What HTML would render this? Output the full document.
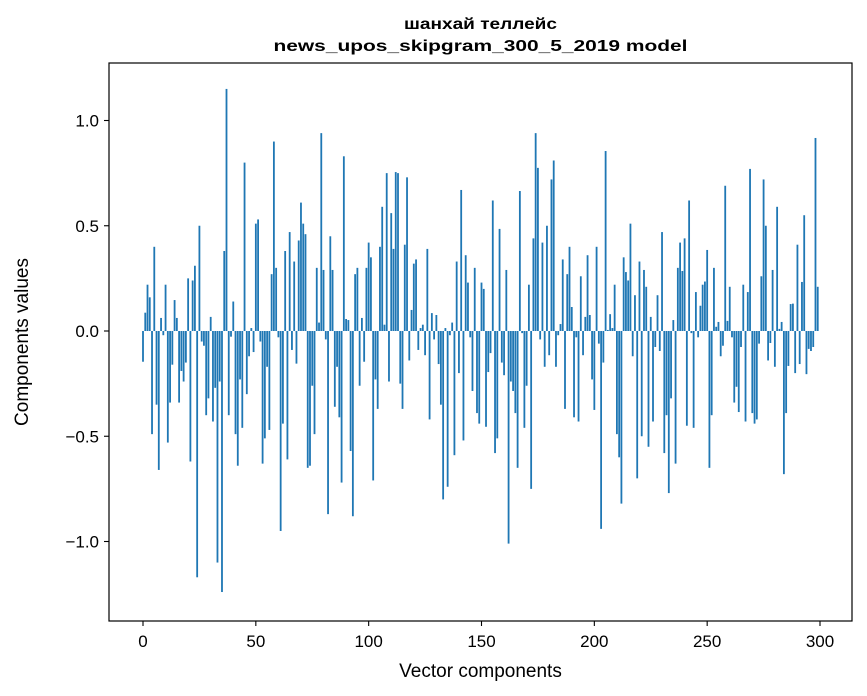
<!DOCTYPE html>
<html><head><meta charset="utf-8"><style>
body{margin:0;background:#fff;}
svg{display:block;font-family:"Liberation Sans","DejaVu Sans",sans-serif;}
</style></head><body>
<svg id="chart" width="867" height="696" viewBox="0 0 867 696">
<rect width="867" height="696" fill="#fff"/>
<text x="480.5" y="29" text-anchor="middle" font-size="16" font-weight="bold" textLength="153" lengthAdjust="spacingAndGlyphs">шанхай теллейс</text>
<text x="480.5" y="51" text-anchor="middle" font-size="16" font-weight="bold" textLength="414" lengthAdjust="spacingAndGlyphs">news_upos_skipgram_300_5_2019 model</text>
<g id="bars"></g>
<g id="axes"></g>
<rect x="109" y="63" width="743" height="558" fill="none" stroke="#000" stroke-width="1.2"/>
<text x="480.5" y="677" text-anchor="middle" font-size="19">Vector components</text>
<text transform="translate(28,342) rotate(-90)" text-anchor="middle" font-size="19">Components values</text>
</svg>
<script>
const values = [-0.146,0.087,0.22,0.16,-0.49,0.40,-0.35,-0.66,0.062,-0.02,
0.22,-0.53,-0.34,-0.16,0.147,0.062,-0.34,-0.19,-0.24,-0.15,
0.25,-0.62,0.24,0.31,-1.17,0.50,-0.05,-0.07,-0.40,-0.32,
0.067,-0.43,-0.27,-1.10,-0.24,-1.24,0.38,1.15,-0.40,-0.027,
0.14,-0.49,-0.64,-0.23,-0.46,0.80,-0.30,-0.12,0.014,-0.10,
0.51,0.53,-0.05,-0.63,-0.51,-0.17,-0.47,0.27,0.90,0.30,
-0.03,-0.95,-0.44,0.38,-0.61,0.47,-0.09,0.33,-0.155,0.43,
0.61,0.51,0.46,-0.65,-0.64,-0.26,-0.49,0.30,0.04,0.94,
0.29,-0.04,-0.87,0.45,0.29,-0.36,-0.17,-0.41,-0.72,0.83,
0.057,0.052,-0.57,-0.88,0.27,0.30,-0.26,0.062,-0.146,0.30,
0.42,0.35,-0.71,-0.23,-0.37,0.40,0.59,0.03,0.75,-0.24,
0.56,0.39,0.755,0.75,-0.25,-0.37,0.41,0.73,-0.14,0.10,
0.32,0.34,-0.09,0.014,0.03,-0.115,0.39,-0.42,0.085,-0.04,
0.076,-0.157,-0.35,-0.80,0.014,-0.74,-0.02,0.04,-0.59,0.33,
-0.20,0.67,-0.52,0.36,0.23,-0.03,-0.285,0.30,-0.39,-0.44,
0.23,0.20,-0.455,-0.195,-0.105,0.62,-0.58,-0.51,0.485,-0.15,
-0.21,0.29,-1.01,-0.24,-0.285,-0.39,-0.65,0.665,-0.01,-0.46,
-0.26,0.22,-0.75,0.44,0.94,0.775,-0.04,0.42,-0.17,0.50,
-0.115,0.72,0.81,-0.17,-0.02,0.033,0.34,-0.37,0.27,0.40,
0.114,-0.41,-0.03,-0.43,0.26,-0.115,0.067,0.36,0.076,-0.23,
-0.375,0.40,-0.06,-0.94,-0.15,0.855,0.005,0.08,0.014,0.22,
-0.49,-0.60,-0.82,0.35,0.28,0.24,0.51,-0.12,0.17,-0.70,
0.33,-0.50,0.29,0.21,-0.55,0.067,-0.43,-0.076,0.17,-0.095,
0.47,-0.58,-0.40,-0.77,-0.32,0.052,-0.63,0.30,0.42,0.285,
0.44,-0.45,0.62,-0.01,-0.46,0.185,-0.03,0.12,0.22,0.235,
0.385,-0.65,-0.40,0.30,0.02,0.043,-0.12,-0.07,0.69,0.048,
0.21,-0.03,-0.34,-0.265,-0.385,-0.076,0.22,-0.43,0.185,0.77,
-0.39,-0.44,-0.42,-0.06,0.26,0.72,0.50,-0.14,-0.057,0.29,
-0.17,0.59,0.01,0.043,-0.68,-0.39,-0.166,0.128,0.13,-0.20,
0.41,-0.157,0.233,0.55,-0.205,-0.085,-0.095,-0.076,0.917,0.21];
const xTicks = [0,50,100,150,200,250,300];
const yTicks = [-1.0,-0.5,0.0,0.5,1.0];
const yTickLabels = ["\u22121.0","\u22120.5","0.0","0.5","1.0"];

const NS="http://www.w3.org/2000/svg";
const xs = v => 143 + v*(820-143)/300;
const ys = v => 331 - v*210.5;
const barsG=document.getElementById('bars');
const axesG=document.getElementById('axes');
values.forEach((v,i)=>{
  const r=document.createElementNS(NS,'rect');
  const w=0.8*(820-143)/300;
  r.setAttribute('x',xs(i)-w/2);
  r.setAttribute('width',w);
  r.setAttribute('y',Math.min(ys(v),ys(0)));
  r.setAttribute('height',Math.abs(ys(v)-ys(0)));
  r.setAttribute('fill','#1f77b4');
  
  
  barsG.appendChild(r);
});
xTicks.forEach(t=>{
  const l=document.createElementNS(NS,'line');
  l.setAttribute('x1',xs(t));l.setAttribute('x2',xs(t));
  l.setAttribute('y1',621);l.setAttribute('y2',626);
  l.setAttribute('stroke','#000');l.setAttribute('stroke-width','1.1');
  
  
  axesG.appendChild(l);
  const tx=document.createElementNS(NS,'text');
  tx.setAttribute('x',xs(t));tx.setAttribute('y',647);
  tx.setAttribute('text-anchor','middle');tx.setAttribute('font-size','17');
  tx.textContent=t;
  
  
  axesG.appendChild(tx);
});
yTicks.forEach((t,i)=>{
  const l=document.createElementNS(NS,'line');
  l.setAttribute('x1',104);l.setAttribute('x2',109);
  l.setAttribute('y1',ys(t));l.setAttribute('y2',ys(t));
  l.setAttribute('stroke','#000');l.setAttribute('stroke-width','1.1');
  
  
  axesG.appendChild(l);
  const tx=document.createElementNS(NS,'text');
  tx.setAttribute('x',99);tx.setAttribute('y',ys(t)+6);
  tx.setAttribute('text-anchor','end');tx.setAttribute('font-size','17');
  tx.textContent=yTickLabels[i];
  
  
  axesG.appendChild(tx);
});
</script>
</body></html>
